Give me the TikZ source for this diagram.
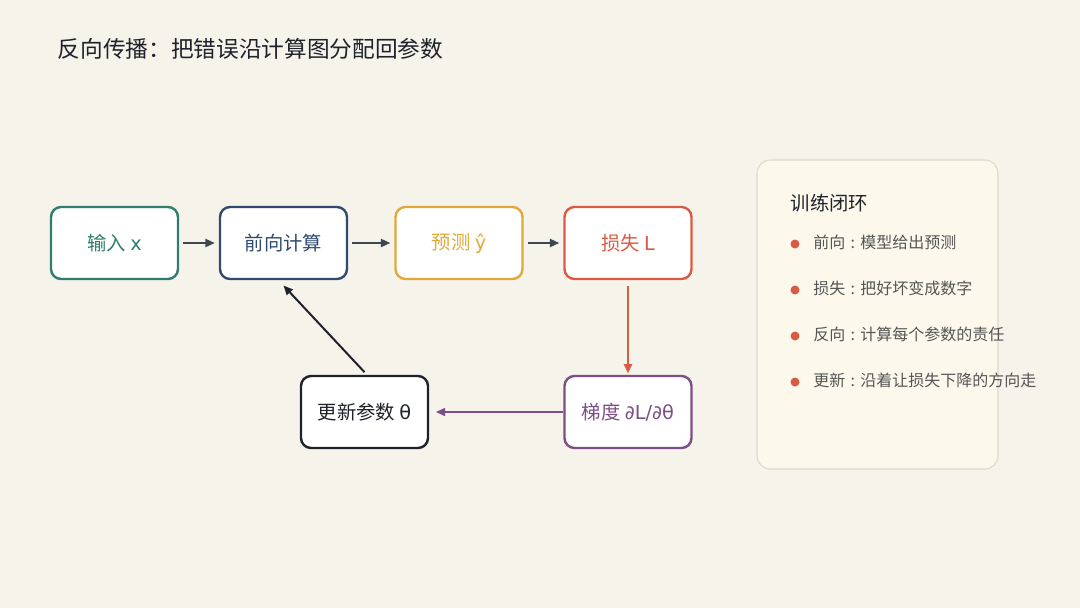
\documentclass[tikz,border=0pt]{standalone}
\usepackage{fontspec}
\setmainfont{Noto Sans CJK SC}
\newfontfamily\lat{DejaVu Sans}
\usetikzlibrary{arrows.meta}
\definecolor{bg}{HTML}{F6F3EB}
\definecolor{cteal}{HTML}{2E7D6E}
\definecolor{cnavy}{HTML}{2F4B6E}
\definecolor{camber}{HTML}{E0A93A}
\definecolor{cred}{HTML}{D95B43}
\definecolor{cpurp}{HTML}{7D4E86}
\definecolor{cblk}{HTML}{1E222A}
\definecolor{carr}{HTML}{3D4750}
\definecolor{panel}{HTML}{FCF8EC}
\definecolor{pborder}{HTML}{DDD8C8}
\definecolor{ctext}{HTML}{555555}
\begin{document}
\begin{tikzpicture}[x=0.75pt,y=-0.75pt,
 box/.style={draw=#1,text=#1,fill=white,line width=1.8pt,rounded corners=7.5pt,minimum width=127*0.75pt,minimum height=72*0.75pt,font=\fontsize{14.5pt}{16pt}\selectfont},
 arr/.style={line width=1.5pt,-{Triangle[length=7pt,width=6pt]}}]
\useasboundingbox[fill=bg] (0,0) rectangle (1080,608);
\node[anchor=west,font=\fontsize{17pt}{19pt}\selectfont,text=cblk] (title) at (53,49) {反向传播：把错误沿计算图分配回参数};
\node[box=cteal] (x) at (114.5,243) {输入 {\lat x}};
\node[box=cnavy] (f) at (283.5,243) {前向计算};
\node[box=camber] (y) at (459,243) {预测 {\lat ŷ}};
\node[box=cred] (l) at (628,243) {损失 {\lat L}};
\node[box=cpurp] (g) at (628,412) {梯度 {\lat ∂L/∂θ}};
\node[box=cblk] (u) at (364.5,412) {更新参数 {\lat θ}};
\draw[arr,carr] ([xshift=3pt]x.east) -- ([xshift=-3pt]f.west);
\draw[arr,carr] ([xshift=3pt]f.east) -- ([xshift=-3pt]y.west);
\draw[arr,carr] ([xshift=3pt]y.east) -- ([xshift=-3pt]l.west);
\draw[arr,cred] ([yshift=-4pt]l.south) -- ([yshift=1pt]g.north);
\draw[arr,cpurp] (g.west) -- ([xshift=5pt]u.east);
\draw[arr,cblk] ([yshift=2pt]u.north) -- ([yshift=-4pt]f.south);
\draw[fill=panel,draw=pborder,line width=0.8pt,rounded corners=10pt] (757,160) rectangle (998,469);
\node[anchor=west,font=\fontsize{14.5pt}{16pt}\selectfont,text=cblk] (h) at (786,203) {训练闭环};
\foreach \yy/\a/\t [count=\i] in {242/前向/模型给出预测,288/损失/把好坏变成数字,334/反向/计算每个参数的责任,380/更新/沿着让损失下降的方向走}{
 \fill[cred] (795,\yy+2) circle (4.5);
 \node[anchor=west,font=\fontsize{12pt}{13pt}\selectfont,text=ctext,inner sep=0pt] (b\i) at (813,\yy) {\a\hspace{4pt}:\hspace{4pt}\t};
}
\end{tikzpicture}
\end{document}
